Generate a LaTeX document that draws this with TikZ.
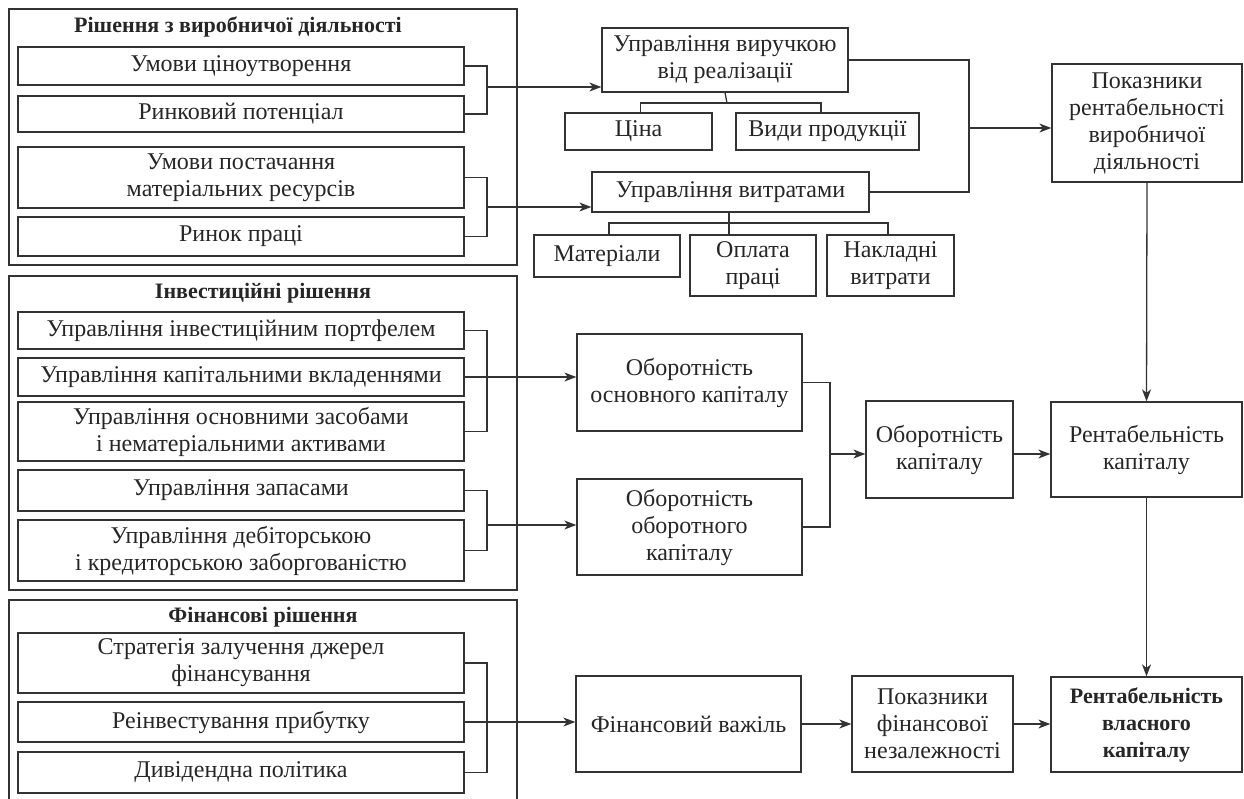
\documentclass[tikz,border=0pt]{standalone}
\usepackage{fontspec}
\setmainfont{Liberation Serif}
\usetikzlibrary{arrows.meta}
\begin{document}
\begin{tikzpicture}[x=1pt,y=-1pt,
  every node/.style={font=\fontsize{24}{27}\selectfont, text=black!85},
  box/.style={draw=black!80, line width=1.3pt, align=center, inner sep=0pt},
  outer/.style={draw=black!80, line width=1.3pt},
  ttl/.style={font=\fontsize{22}{26}\selectfont\bfseries},
  conn/.style={draw=black!80, line width=1.3pt},
  arr/.style={conn, -{Stealth[length=12pt,width=9pt,inset=3.5pt]}}]
\useasboundingbox (0,0) rectangle (1244,798);
\newcommand{\bx}[6][]{\node[box,#1,minimum width=#4-#2,minimum height=#5-#3] (#6) at ({(#2+#4)/2},{(#3+#5)/2})}
% group 1
\draw[outer] (9,9) rectangle (517,265);
\node[ttl] (t1) at (238,27) {Рішення з виробничої діяльності};
\bx{18}{47}{464}{85}{g1a} {Умови ціноутворення};
\bx{18}{96}{464}{132}{g1b} {Ринковий потенціал};
\bx{18}{147}{464}{208}{g1c} {Умови постачання\\матеріальних ресурсів};
\bx{18}{217}{464}{256}{g1d} {Ринок праці};
% right top
\bx{602}{28}{848}{92}{rev} {Управління виручкою\\від реалізації};
\bx{565}{113}{712}{150}{price} {Ціна};
\bx{736}{113}{919}{150}{types} {Види продукції};
\bx{592}{172}{869}{212}{cost} {Управління витратами};
\bx{534}{235}{680}{277}{mat} {Матеріали};
\bx{690}{235}{816}{296}{pay} {Оплата\\праці};
\bx{827}{235}{954}{296}{over} {Накладні\\витрати};
\bx{1052}{64}{1242}{182}{pok} {Показники\\рентабельності\\виробничої\\діяльності};
% group 2
\draw[outer] (9,276) rectangle (517,590);
\node[ttl] (t2) at (263,293) {Інвестиційні рішення};
\bx{18}{312}{464}{349}{g2a} {Управління інвестиційним портфелем};
\bx{18}{358}{464}{396}{g2b} {Управління капітальними вкладеннями};
\bx{18}{402}{464}{461}{g2c} {Управління основними засобами\\і нематеріальними активами};
\bx{18}{470}{464}{511}{g2d} {Управління запасами};
\bx{18}{520}{464}{581}{g2e} {Управління дебіторською\\і кредиторською заборгованістю};
\bx{577}{334}{802}{431}{fix} {Оборотність\\основного капіталу};
\bx{577}{479}{802}{575}{work} {Оборотність\\оборотного\\капіталу};
\bx{866}{401}{1013}{498}{turn} {Оборотність\\капіталу};
\bx{1051}{402}{1242}{497}{rc} {Рентабельність\\капіталу};
% group 3
\draw[outer] (9,600) rectangle (517,812);
\node[ttl] (t3) at (263,617) {Фінансові рішення};
\bx{18}{633}{464}{693}{g3a} {Стратегія залучення джерел\\фінансування};
\bx{18}{702}{464}{742}{g3b} {Реінвестування прибутку};
\bx{18}{752}{464}{793}{g3c} {Дивідендна політика};
\bx{576}{676}{801}{772}{lev} {Фінансовий важіль};
\bx{852}{676}{1013}{772}{ind} {Показники\\фінансової\\незалежності};
\bx[font=\fontsize{22}{27}\selectfont\bfseries]{1051}{677}{1242}{772}{roe} {Рентабельність\\власного\\капіталу};
% coordinates
\coordinate (b1) at (487,87);
\coordinate (b2) at (487,207);
\coordinate (k1) at (969,128);
\coordinate (h1) at (727,103);
\coordinate (h2) at (729,223);
\coordinate (b3) at (487,377);
\coordinate (b4) at (487,525);
\coordinate (k2) at (830,454);
\coordinate (b5) at (487,722);
% group 1 connectors
\draw[conn] (g1a.east) -| (b1) |- (g1b.east);
\draw[arr] (b1) -- (b1 -| rev.west);
\draw[conn] (g1c.east) -| (b2) |- (g1d.east);
\draw[arr] (b2) -- (b2 -| cost.west);
\draw[conn] (rev.east) -| (k1) |- (cost.east);
\draw[arr] (k1) -- (k1 -| pok.west);
\draw[conn] (rev.south) -- (h1);
\draw[conn] (h1 -| price.north) ++(2,0) coordinate (p1) (p1 |- price.north) -- (p1) -- (821,103) coordinate (p2) -- (p2 |- types.north);
\draw[conn] (cost.south -| h2) -- (h2 |- pay.north);
\draw[conn] (h2 -| mat.north) ++(2,0) coordinate (m1) (m1 |- mat.north) -- (m1) -- (888,223) coordinate (m2) -- (m2 |- over.north);
\draw[arr] (pok.south) -- (rc.north);
\draw[arr] (rc.south) -- (roe.north);
% group 2 connectors
\draw[conn] (g2a.east) -| (b3) |- (g2c.east);
\draw[arr] (g2b.east) -- (g2b.east -| fix.west);
\draw[conn] (g2d.east) -| (b4) |- (g2e.east);
\draw[arr] (b4) -- (b4 -| work.west);
\draw[conn] (fix.east) -| (k2) |- (work.east);
\draw[arr] (k2) -- (k2 -| turn.west);
\draw[arr] (k2 -| turn.east) -- (k2 -| rc.west);
% group 3 connectors
\draw[conn] (g3a.east) -| (b5) |- (g3c.east);
\draw[arr] (g3b.east) -- (g3b.east -| lev.west);
\draw[arr] (lev.east) -- (lev.east -| ind.west);
\draw[arr] (ind.east) -- (ind.east -| roe.west);
\end{tikzpicture}
\end{document}
